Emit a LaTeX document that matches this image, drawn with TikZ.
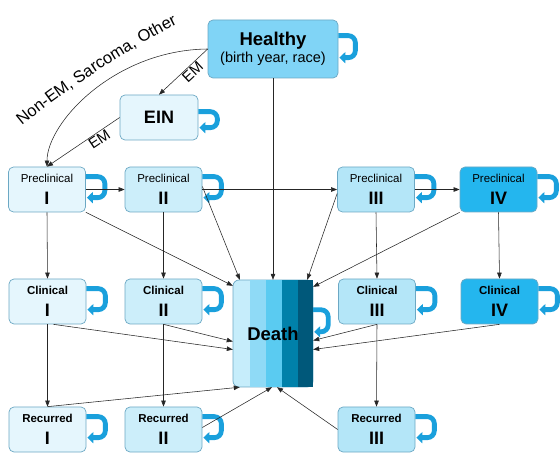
\documentclass[tikz,border=0pt]{standalone}
\usepackage{fontspec}
\setmainfont{Liberation Sans}
\usetikzlibrary{arrows.meta,calc,decorations.text}
\definecolor{bordc}{RGB}{108,168,196}
\definecolor{lvA}{RGB}{229,246,253}
\definecolor{lvB}{RGB}{204,238,250}
\definecolor{lvC}{RGB}{180,230,248}
\definecolor{lvD}{RGB}{36,182,238}
\definecolor{hc}{RGB}{128,212,246}
\definecolor{loopc}{RGB}{26,160,220}
\definecolor{dA}{RGB}{198,237,251}
\definecolor{dB}{RGB}{143,218,246}
\definecolor{dC}{RGB}{90,203,241}
\definecolor{dD}{RGB}{0,129,170}
\definecolor{dE}{RGB}{0,88,122}
\newcommand\bt[2]{#1\\{\fontsize{18}{22}\selectfont\bfseries #2}}
\newcommand\selfloop[4]{\draw[loopst] ([yshift=-#2pt]#1.north east) -- ++(#4,0) -- ++(0,#3) -- ++(-#4+1,0);}
\begin{document}
\begin{tikzpicture}[x=1pt,y=-1pt,
  box/.style={draw=bordc, line width=0.7pt, rounded corners=5pt, minimum width=77pt, minimum height=45pt, inner sep=0pt, align=center, font=\fontsize{11.5}{22}\selectfont},
  edge/.style={draw=black!85, line width=0.55pt, -{Triangle[length=6pt,width=4.5pt]}},
  loopst/.style={draw=loopc, line width=4.8pt, rounded corners=7pt, -{Triangle[length=6pt,width=11pt]}},
  lbl/.style={font=\fontsize{15}{15}\selectfont, inner sep=1pt}]
\useasboundingbox (0,0) rectangle (560,462);
% Death block
\filldraw[fill=dA, draw=bordc, line width=0.7pt, rounded corners=6pt] (233,280) rectangle (313,387);
\fill[dB] (250,280) rectangle (266,387);
\fill[dC] (266,280) rectangle (282,387);
\fill[dD] (282,280) rectangle (298,387);
\fill[dE] (298,280) rectangle (313,387);
\node[inner sep=0pt, minimum width=80pt, minimum height=107pt, font=\fontsize{18.5}{20}\selectfont\bfseries] (death) at (273,333.5) {Death};
% nodes
\node[box, fill=hc, minimum width=130pt, minimum height=58pt, font=\fontsize{14.5}{17}\selectfont] (h) at (273,49) {{\fontsize{18.5}{17}\selectfont\bfseries Healthy}\\(birth year, race)};
\node[box, fill=lvA, minimum width=78pt, font=\fontsize{18}{20}\selectfont\bfseries] (ein) at (159,117.5) {EIN};
\node[box, fill=lvA] (p1) at (47,189.5) {\bt{Preclinical}{I}};
\node[box, fill=lvB] (p2) at (163.5,189.5) {\bt{Preclinical}{II}};
\node[box, fill=lvC] (p3) at (376,189.5) {\bt{Preclinical}{III}};
\node[box, fill=lvD] (p4) at (498.5,189.5) {\bt{Preclinical}{IV}};
\node[box, fill=lvA] (c1) at (47.5,301.5) {\bt{\bfseries Clinical}{I}};
\node[box, fill=lvB] (c2) at (163.5,301.5) {\bt{\bfseries Clinical}{II}};
\node[box, fill=lvC] (c3) at (377,301.5) {\bt{\bfseries Clinical}{III}};
\node[box, fill=lvD] (c4) at (499.5,301.5) {\bt{\bfseries Clinical}{IV}};
\node[box, fill=lvA] (r1) at (47.5,429.5) {\bt{\bfseries Recurred}{I}};
\node[box, fill=lvB] (r2) at (163.5,429.5) {\bt{\bfseries Recurred}{II}};
\node[box, fill=lvC] (r3) at (376.5,429.5) {\bt{\bfseries Recurred}{III}};
% self loops
\selfloop{h}{16}{22}{17}
\selfloop{ein}{17}{16}{19}
\selfloop{death}{30}{22}{15}
\foreach \n in {p1,p2,p3,p4,c1,c2,c3,c4,r1,r2,r3} {\selfloop{\n}{10}{21}{19}}
% edges
\draw[edge] (h.west) -- node[lbl, pos=0.4, sloped, below] {EM} (ein.north);
\draw[edge] (ein.west) -- node[lbl, pos=0.33, sloped, below] {EM} (p1.north);
\draw[edge] (h.west) .. controls (114,50) and (47,123) .. (p1.north);
\path[decorate, decoration={text along path, text align=center,
  text={|\fontsize{16.5}{16.5}\selectfont|Non-EM, Sarcoma, Other}}]
  (18,129) .. controls (58,95) and (131,47) .. (182,22);
\draw[edge] (h.south) -- (death.north);
\draw[edge] (p1.east) -- (p2.west);
\draw[edge] (p2.east) -- (p3.west);
\draw[edge] (p3.east) -- (p4.west);
\draw[edge] (p1.south) -- (c1.north);
\draw[edge] (p2.south) -- (c2.north);
\draw[edge] (p3.south) -- (c3.north);
\draw[edge] (p4.south) -- (c4.north);
\draw[edge] (c1.south) -- (r1.north);
\draw[edge] (c2.south) -- (r2.north);
\draw[edge] (c3.south) -- (r3.north);
\draw[edge] (p1.south east) -- ([yshift=-6pt]death.north west);
\draw[edge] ([yshift=3pt]p2.east) -- ([xshift=7pt]death.north west);
\draw[edge] ([yshift=-4pt]p3.west) -- ([xshift=-6pt]death.north east);
\draw[edge] (p4.south west) -- ([yshift=-7pt]death.north east);
\draw[edge] ([xshift=6pt]c1.south) -- ([yshift=-16pt]death.west);
\draw[edge] (c2.south) -- ([yshift=-8pt]death.west);
\draw[edge] (c3.south) -- ([yshift=-7pt]death.east);
\draw[edge] (c4.south) -- ([yshift=-16pt]death.east);
\draw[edge] (r1.north) -- ([xshift=7pt]death.south west);
\draw[edge] ([yshift=2pt]r2.east) -- ([xshift=-1pt]death.south);
\draw[edge] (r3.west) -- ([xshift=4pt]death.south);
\end{tikzpicture}
\end{document}
